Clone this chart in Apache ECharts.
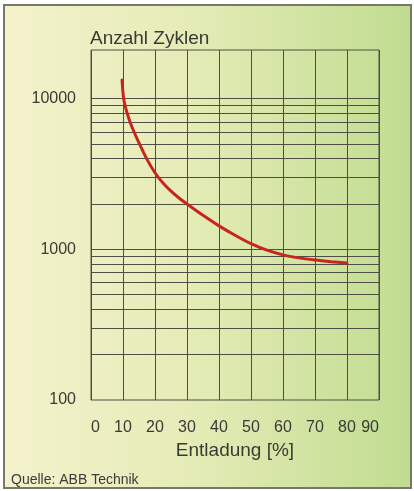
<!DOCTYPE html>
<html>
<head>
<meta charset="utf-8">
<script src="https://cdn.jsdelivr.net/npm/echarts@6.0.0/dist/echarts.min.js"></script>
<style>
html,body{margin:0;padding:0;background:#ffffff;}
#chart{width:414px;height:491px;}
</style>
</head>
<body>
<div id="chart"></div>
<script>
// ---- data ----
const xTicks = [0, 10, 20, 30, 40, 50, 60, 70, 80, 90];
const yLabels = [100, 1000, 10000];
const yGridLines = [200, 300, 400, 500, 600, 700, 800, 900, 1000,
                    2000, 3000, 4000, 5000, 6000, 7000, 8000, 9000, 10000];
const dischargePct = [9.7, 10.2, 11, 12.2, 13.5, 15, 17.5, 20, 22.5, 25, 27.5, 30,
                      35, 40, 45, 50, 55, 60, 65, 70, 75, 80];
const cycles       = [13300, 10000, 8400, 7000, 5980, 5080, 3950, 3220, 2750, 2430, 2190, 2000,
                      1680, 1430, 1240, 1090, 986, 918, 877, 849, 828, 811];

const titleText = 'Anzahl Zyklen';
const xName = 'Entladung [%]';
const sourceText = 'Quelle: ABB Technik';

const FONT = 'Liberation Sans, Arial, Helvetica, sans-serif';
const TXT = '#3a3a36';
const GRIDC = '#4e4e44';

const chart = echarts.init(document.getElementById('chart'), null, {renderer: 'canvas'});

const option = {
  animation: false,
  backgroundColor: '#ffffff',
  graphic: {
    elements: [
      {
        type: 'rect',
        z: -100,
        silent: true,
        shape: {x: 4, y: 5, width: 407, height: 483},
        style: {
          fill: new echarts.graphic.LinearGradient(0, 0, 1, 0, [
            {offset: 0, color: '#f4f2cc'},
            {offset: 0.45, color: '#e5ecb7'},
            {offset: 1, color: '#c0dc90'}
          ]),
          stroke: '#77776c',
          lineWidth: 2
        }
      },
      {
        type: 'text',
        z: 10,
        silent: true,
        left: 11,
        top: 473,
        style: {
          text: sourceText,
          fill: TXT,
          font: '14px ' + FONT
        }
      }
    ]
  },
  title: {
    text: titleText,
    left: 90,
    top: 29,
    padding: 0,
    textStyle: {fontSize: 19, fontWeight: 'normal', color: TXT, fontFamily: FONT}
  },
  grid: {
    left: 91, right: 35, top: 50, bottom: 91,
    show: true,
    borderColor: GRIDC,
    borderWidth: 1,
    backgroundColor: 'transparent',
    containLabel: false
  },
  xAxis: {
    type: 'value',
    min: 0,
    max: 90,
    interval: 10,
    name: xName,
    nameLocation: 'middle',
    nameGap: 41,
    nameTextStyle: {fontSize: 19, color: TXT, fontFamily: FONT},
    axisLine: {show: false},
    axisTick: {show: false},
    splitLine: {show: true, lineStyle: {color: GRIDC, width: 1}},
    axisLabel: {
      fontSize: 16, color: TXT, fontFamily: FONT, margin: 20,
      alignMinLabel: 'left', alignMaxLabel: 'right',
      formatter: v => (xTicks.indexOf(Math.round(v)) >= 0 ? String(Math.round(v)) : '')
    }
  },
  yAxis: {
    type: 'log',
    logBase: 10,
    min: 100,
    max: 21000,
    axisLine: {show: false},
    axisTick: {show: false},
    splitLine: {show: false},
    axisLabel: {
      fontSize: 16, color: TXT, fontFamily: FONT, margin: 15,
      formatter: v => {
        const m = yLabels.find(l => Math.abs(l - v) / l < 0.01);
        return m ? String(m) : '';
      }
    }
  },
  series: [
    {
      type: 'line',
      data: dischargePct.map((x, i) => [x, cycles[i]]),
      smooth: 0.3,
      showSymbol: false,
      symbol: 'none',
      z: 5,
      lineStyle: {color: '#c8261c', width: 3, cap: 'round'},
      markLine: {
        silent: true,
        symbol: ['none', 'none'],
        label: {show: false},
        z: 1,
        lineStyle: {color: GRIDC, width: 1, type: 'solid'},
        emphasis: {disabled: true},
        data: yGridLines.map(v => ({yAxis: v}))
      }
    }
  ]
};

chart.setOption(option);
</script>
</body>
</html>
